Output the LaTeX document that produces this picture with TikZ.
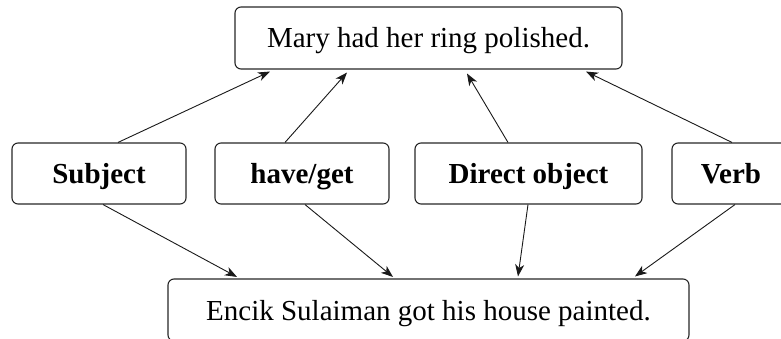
\documentclass[tikz,border=0pt]{standalone}
\usepackage{fontspec}
\setmainfont{Liberation Serif}
\usetikzlibrary{arrows.meta,calc}
\begin{document}
\begin{tikzpicture}[x=1pt,y=-1pt,
  box/.style={draw=black!85, line width=1.1pt, rounded corners=6pt, inner sep=0pt,
    text height=20pt, text depth=0pt, font=\fontsize{29}{34}\selectfont, minimum height=62pt},
  lab/.style={box, font=\fontsize{29}{34}\selectfont\bfseries, minimum height=61pt},
  arr/.style={-{Stealth[length=12pt,width=9pt,inset=3.5pt]}, line width=0.9pt, draw=black!90}]
\clip (0,0) rectangle (781,339);
\node[box, minimum width=387pt] (top) at (428.5,38) {Mary had her ring polished.};
\node[lab, minimum width=174pt] (subj) at (99,173.5) {Subject};
\node[lab, minimum width=174pt] (have) at (302,173.5) {have/get};
\node[lab, minimum width=227pt] (dobj) at (528.5,173.5) {Direct object};
\node[lab, minimum width=118pt] (verb) at (731,173.5) {Verb};
\node[box, minimum width=521pt] (bot) at (428.5,310) {Encik Sulaiman got his house painted.};
% upward arrows
\draw[arr] ([xshift=19pt]subj.north) -- ([xshift=-158.5pt,yshift=-2pt]top.south);
\draw[arr] ([xshift=-17pt]have.north) -- ([xshift=-81.5pt,yshift=-3pt]top.south);
\draw[arr] ([xshift=-20.5pt]dobj.north) -- ([xshift=38.5pt,yshift=-4pt]top.south);
\draw[arr] ([xshift=1pt]verb.north) -- ([xshift=157.5pt,yshift=-2pt]top.south);
% downward arrows
\draw[arr] ([xshift=4pt]subj.south) -- ([xshift=-191.5pt,yshift=1.5pt]bot.north);
\draw[arr] ([xshift=3pt]have.south) -- ([xshift=-35.5pt,yshift=1.5pt]bot.north);
\draw[arr] ([xshift=-0.5pt]dobj.south) -- ([xshift=89.5pt,yshift=2pt]bot.north);
\draw[arr] ([xshift=4pt]verb.south) -- ([xshift=206.5pt,yshift=2pt]bot.north);
\end{tikzpicture}
\end{document}
